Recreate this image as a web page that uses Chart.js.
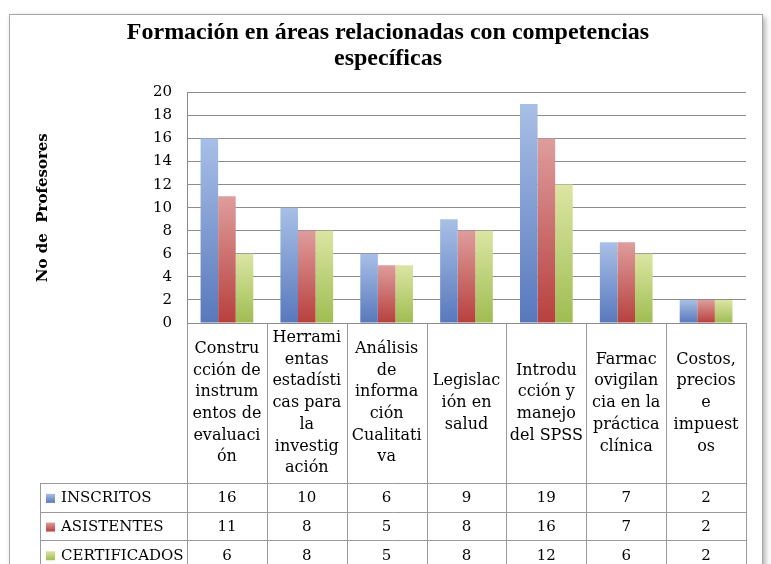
<!DOCTYPE html>
<html>
<head>
<meta charset="utf-8">
<script src="https://cdn.jsdelivr.net/npm/chart.js@4.4.1/dist/chart.umd.min.js"></script>
<style>
  body { margin: 0; background: #fff; }
  canvas { display: block; }
</style>
</head>
<body>
<canvas id="myChart" width="771" height="564"></canvas>
<script>
const categories = [
  ["Constru", "cción de", "instrum", "entos de", "evaluaci", "ón"],
  ["Herrami", "entas", "estadísti", "cas para", "la", "investig", "ación"],
  ["Análisis", "de", "informa", "ción", "Cualitati", "va"],
  ["Legislac", "ión en", "salud"],
  ["Introdu", "cción y", "manejo", "del SPSS"],
  ["Farmac", "ovigilan", "cia en la", "práctica", "clínica"],
  ["Costos,", "precios", "e", "impuest", "os"]
];
const seriesNames = ["INSCRITOS", "ASISTENTES", "CERTIFICADOS"];
const inscritos = [16, 10, 6, 9, 19, 7, 2];
const asistentes = [11, 8, 5, 8, 16, 7, 2];
const certificados = [6, 8, 5, 8, 12, 6, 2];

const topColors = ["#a8bfe6", "#de9d9c", "#dce5a3"];
const bottomColors = ["#5878bc", "#b7403e", "#9fbd52"];
const serif = "'DejaVu Serif', serif";

function barFill(c, s) {
  const chart = c.chart;
  const y = chart.scales.y;
  if (!chart.chartArea || !y || c.raw == null) return bottomColors[s];
  const top = y.getPixelForValue(c.raw);
  const base = y.getPixelForValue(0);
  const g = chart.ctx.createLinearGradient(0, top, 0, base);
  g.addColorStop(0, topColors[s]);
  g.addColorStop(1, bottomColors[s]);
  return g;
}

const framePlugin = {
  id: "frame",
  beforeDraw(chart) {
    const ctx = chart.ctx;
    ctx.save();
    ctx.fillStyle = "#fff";
    ctx.fillRect(0, 0, chart.width, chart.height);
    ctx.shadowColor = "rgba(0,0,0,0.35)";
    ctx.shadowBlur = 6;
    ctx.shadowOffsetX = 2;
    ctx.shadowOffsetY = 2;
    ctx.fillRect(9.5, 14.5, 753, 620);
    ctx.shadowColor = "transparent";
    ctx.strokeStyle = "#a6a6a6";
    ctx.lineWidth = 1;
    ctx.strokeRect(9.5, 14.5, 753, 620);
    ctx.restore();
  }
};

// data table under the plot
const tablePlugin = {
  id: "dataTable",
  afterDraw(chart) {
    const ctx = chart.ctx;
    const area = chart.chartArea;
    const xs = chart.scales.x;
    const n = categories.length;
    const w = (area.right - area.left) / n;
    const labelTop = area.bottom;
    const labelBottom = 483;
    const rowH = 28.7;
    const legendLeft = 40.5;
    const rows = [inscritos, asistentes, certificados];

    ctx.save();
    ctx.strokeStyle = "#999";
    ctx.lineWidth = 1;
    ctx.beginPath();
    for (let i = 0; i <= n; i++) {
      const x = Math.round(area.left + i * w) + 0.5;
      ctx.moveTo(x, labelTop);
      ctx.lineTo(x, chart.height);
    }
    ctx.moveTo(legendLeft, labelBottom);
    ctx.lineTo(legendLeft, chart.height);
    for (let r = 0; r <= rows.length; r++) {
      const y = Math.round(labelBottom + r * rowH) + 0.5;
      ctx.moveTo(legendLeft, y);
      ctx.lineTo(area.right + 0.5, y);
    }
    ctx.stroke();

    ctx.fillStyle = "#000";
    ctx.textAlign = "center";
    ctx.textBaseline = "middle";
    ctx.font = "16px " + serif;
    const lh = 21.7;
    const mid = (labelTop + labelBottom) / 2;
    categories.forEach((lines, i) => {
      const cx = xs.getPixelForValue(i);
      const start = mid - (lines.length - 1) * lh / 2;
      lines.forEach((t, k) => ctx.fillText(t, cx, start + k * lh));
    });

    ctx.font = "15px " + serif;
    rows.forEach((vals, r) => {
      const cy = labelBottom + r * rowH + rowH / 2 + 1;
      vals.forEach((v, i) => ctx.fillText(String(v), xs.getPixelForValue(i), cy));
      const g = ctx.createLinearGradient(0, cy - 4.5, 0, cy + 4.5);
      g.addColorStop(0, topColors[r]);
      g.addColorStop(1, bottomColors[r]);
      ctx.fillStyle = g;
      ctx.fillRect(46, cy - 4.5, 9, 9);
      ctx.fillStyle = "#000";
      ctx.textAlign = "left";
      ctx.fillText(seriesNames[r], 61, cy);
      ctx.textAlign = "center";
    });
    ctx.restore();
  }
};

const ctx = document.getElementById("myChart");
const myChart = new Chart(ctx, {
  type: "bar",
  data: {
    labels: categories,
    datasets: [
      { label: seriesNames[0], data: inscritos, backgroundColor: (c) => barFill(c, 0) },
      { label: seriesNames[1], data: asistentes, backgroundColor: (c) => barFill(c, 1) },
      { label: seriesNames[2], data: certificados, backgroundColor: (c) => barFill(c, 2) }
    ]
  },
  options: {
    responsive: false,
    devicePixelRatio: 1,
    animation: false,
    categoryPercentage: 0.66,
    barPercentage: 1,
    layout: { padding: { left: 30, right: 25, top: 0, bottom: 241 } },
    plugins: {
      legend: { display: false },
      tooltip: { enabled: false },
      title: {
        display: true,
        text: ["Formación en áreas relacionadas con competencias", "específicas"],
        color: "#000",
        font: { family: "'Liberation Serif', serif", size: 24, weight: "bold", lineHeight: 1.07 },
        padding: { top: 20, bottom: 21 }
      }
    },
    scales: {
      x: { display: false },
      y: {
        min: 0,
        max: 20,
        ticks: { stepSize: 2, color: "#000", padding: 15, font: { family: serif, size: 15 } },
        grid: { color: "#8c8c8c", drawTicks: false },
        border: { color: "#8c8c8c" },
        title: {
          display: true,
          text: "No de  Profesores",
          color: "#000",
          font: { family: serif, size: 15, weight: "bold" },
          padding: { top: 4, bottom: 0 }
        },
        afterFit(scale) {
          scale.width = 157;
        }
      }
    }
  },
  plugins: [framePlugin, tablePlugin]
});
</script>
</body>
</html>
